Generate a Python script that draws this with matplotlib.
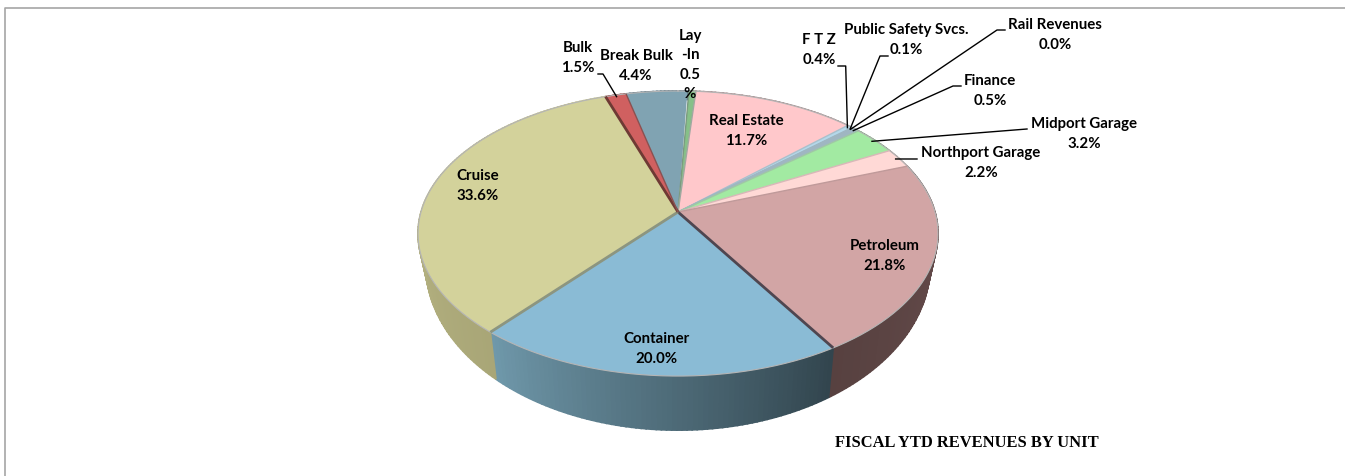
import numpy as np
import matplotlib
matplotlib.use("Agg")
import matplotlib.pyplot as plt
from matplotlib.colors import to_rgb

# Slices, clockwise from the top
labels = ['Lay\n-In', 'Real Estate', 'F T Z', 'Public Safety Svcs.', 'Rail Revenues',
          'Finance', 'Midport Garage', 'Northport Garage', 'Petroleum',
          'Container', 'Cruise', 'Bulk', 'Break Bulk']
values = [0.5, 11.7, 0.4, 0.1, 0.0, 0.5, 3.2, 2.2, 21.8, 20.0, 33.6, 1.5, 4.4]
value_text = ['0.5\n%', '11.7%', '0.4%', '0.1%', '0.0%', '0.5%', '3.2%', '2.2%',
              '21.8%', '20.0%', '33.6%', '1.5%', '4.4%']

top_colors = ['#86c088', '#ffc8cb', '#b4d8ea', '#a9c4d2', '#a9c4d2', '#9fb6c2', '#a2eaa2',
              '#ffd9d6', '#d2a5a5', '#8abbd5', '#d3d29b', '#d06060', '#80a3b2']
edge_colors = ['#7b9a80', '#a0a8a0', '#a9c0cc', '#9fb6c2', '#9fb6c2', '#9fb6c2', '#9fc8a4',
               '#d8b8b8', '#c09a9a', '#4f4650', '#8c9580', '#6e3a34', '#8a5050']
# wall colours at the start and end of each slice
side_start = ['#5c8560', '#a08486', '#7a95a2', '#7a95a2', '#7a95a2', '#7a95a2', '#6f9f6f',
              '#a89090', '#6c5050', '#32454e', '#a9a677', '#8a4040', '#5a7280']
side_end = ['#5c8560', '#a08486', '#7a95a2', '#7a95a2', '#7a95a2', '#7a95a2', '#6f9f6f',
            '#a89090', '#574140', '#6f98aa', '#c6c490', '#8a4040', '#5a7280']

# label centres in pixels
label_x = [690, 746, 819, 906, 1055, 990, 1084, 981, 885, 656, 478, 578, 636]
label_y = [65, 131, 50, 40, 35, 91, 134, 163, 256, 349, 186, 58, 66]

# label side of each leader line, with elbow
leaders = {2: [(838, 66), (845.7, 66)], 3: [(888, 56), (880, 56)], 4: [(1005, 30), (997, 30)],
           5: [(961, 86), (953, 86)], 6: [(1027, 129)], 7: [(917, 159)], 11: [(598, 74), (603, 74)]}

START_ANGLE = 2.8
CX, CY = 678, 212
AX, BY, PERSP = 257, 139.3, 0.151


def project(theta, r=1.0):
    # clockwise angle from the top of the disc to pixels, with perspective
    t = np.radians(theta)
    u, v = r * np.sin(t), -r * np.cos(t)
    w = 1 - PERSP * v
    return CX + AX * u / w, CY + BY * v / w


def project_bottom(theta):
    x, y = project(theta)
    return CX + 0.97 * (x - CX), CY + 1.16 * (y - CY) + 27.8


fig = plt.figure(figsize=(13.45, 4.76), dpi=100)
ax = fig.add_axes([0, 0, 1, 1])
ax.set_xlim(0, 1345)
ax.set_ylim(476, 0)
ax.axis('off')

# frame, top and left only
ax.plot([5, 5, 1345], [476, 8, 8], color='#a6a6a6', lw=1.2, zorder=1)

edges = START_ANGLE + 3.6 * np.concatenate([[0], np.cumsum(values)])

# side walls
for i in range(len(values)):
    a0, a1 = edges[i], edges[i + 1]
    if a1 <= a0:
        continue
    steps = np.arange(a0, a1 + 1, 1.0)
    steps[-1] = a1
    c0, c1 = np.array(to_rgb(side_start[i])), np.array(to_rgb(side_end[i]))
    for j in range(len(steps) - 1):
        f = j / max(len(steps) - 2, 1)
        xa, ya = project(steps[j])
        xb, yb = project(steps[j + 1])
        xc, yc = project_bottom(steps[j + 1])
        xd, yd = project_bottom(steps[j])
        col = c0 + (c1 - c0) * f
        ax.fill([xa, xb, xc, xd], [ya, yb, yc, yd], color=col, lw=1.2, zorder=2)

# top faces
for i in range(len(values)):
    a0, a1 = edges[i], edges[i + 1]
    th = np.linspace(a0, a1, max(int(a1 - a0) * 2, 2))
    xs, ys = project(th)
    ax.fill(np.r_[CX, xs], np.r_[CY, ys], color=top_colors[i], lw=0, zorder=3)

# rim and slice borders
th = np.linspace(0, 360, 721)
xs, ys = project(th)
ax.plot(xs, ys, color='#b5b5b5', lw=0.8, zorder=4)
for i in range(len(values)):
    x, y = project(edges[i])
    lw = 2.0 if labels[i] in ('Container', 'Cruise', 'Bulk') else 1.0
    ax.plot([CX, x], [CY, y], color=edge_colors[i], lw=lw, zorder=4,
            solid_capstyle='butt')

# leader lines end on the middle of their slice
for i, pts in leaders.items():
    ex, ey = project((edges[i] + edges[i + 1]) / 2, 0.985)
    px = [p[0] for p in pts] + [ex]
    py = [p[1] for p in pts] + [ey]
    ax.plot(px, py, color='black', lw=1.0, zorder=5)

for i in range(len(labels)):
    ax.text(label_x[i], label_y[i], labels[i] + '\n' + value_text[i],
            ha='center', va='center', ma='center', family='Lato', weight='bold',
            fontsize=10.8, color='black', linespacing=1.46, zorder=6)

ax.text(967, 443, 'FISCAL YTD REVENUES BY UNIT', ha='center', va='center',
        family='Liberation Serif', weight='bold', fontsize=11.9, color='black', zorder=6)

fig.savefig('out.png', dpi=100)
